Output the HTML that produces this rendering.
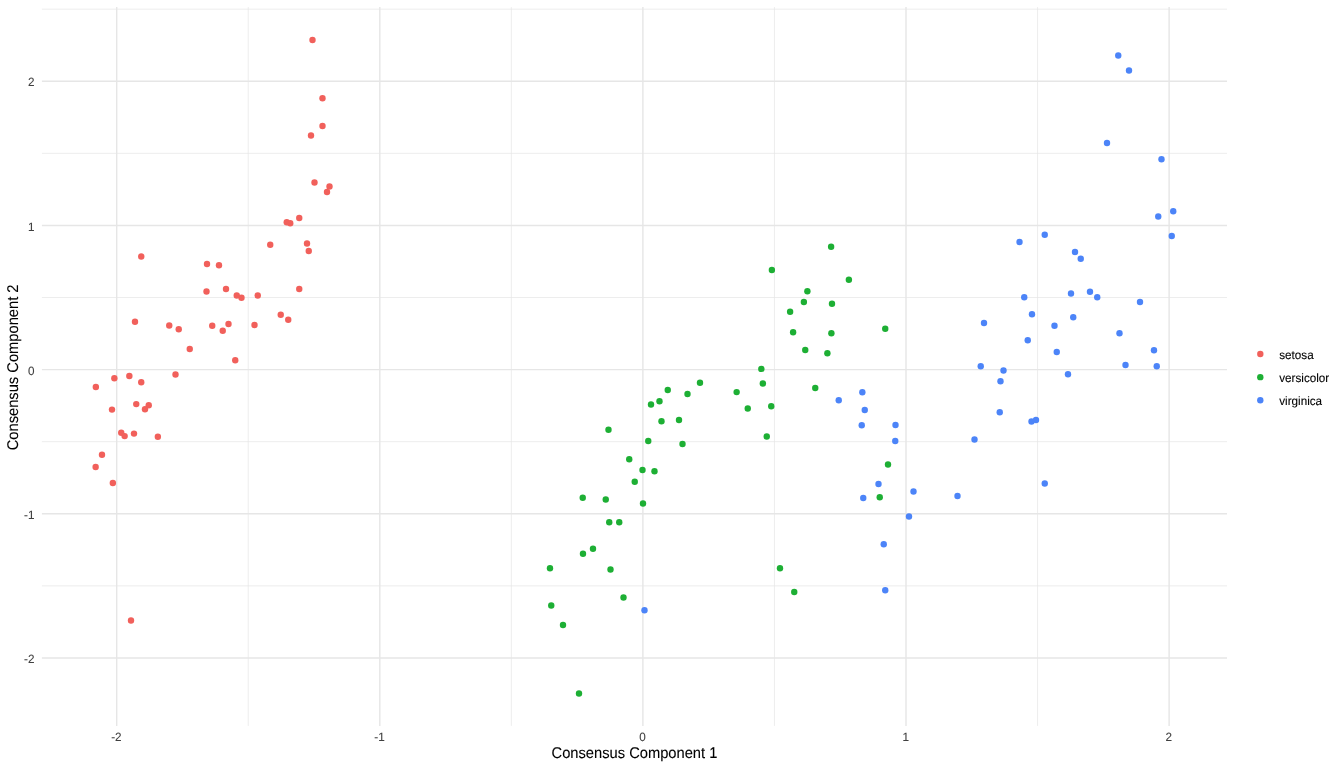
<!DOCTYPE html><html><head><meta charset="utf-8"><style>html,body{margin:0;padding:0;background:#fff;}body{width:1344px;height:768px;overflow:hidden;}svg{display:block;will-change:transform;}text{font-family:"Liberation Sans",sans-serif;text-rendering:geometricPrecision;stroke-width:0.1;}</style></head><body>
<svg width="1344" height="768" viewBox="0 0 1344 768">
<rect width="1344" height="768" fill="#fff"/>
<line x1="41.9" x2="1227" y1="585.86" y2="585.86" stroke="#E6E6E6" stroke-width="0.71"/>
<line x1="41.9" x2="1227" y1="441.69" y2="441.69" stroke="#E6E6E6" stroke-width="0.71"/>
<line x1="41.9" x2="1227" y1="297.52" y2="297.52" stroke="#E6E6E6" stroke-width="0.71"/>
<line x1="41.9" x2="1227" y1="153.35" y2="153.35" stroke="#E6E6E6" stroke-width="0.71"/>
<line x1="41.9" x2="1227" y1="9.18" y2="9.18" stroke="#E6E6E6" stroke-width="0.71"/>
<line y1="7.1" y2="725.9" x1="248.25" x2="248.25" stroke="#E6E6E6" stroke-width="0.71"/>
<line y1="7.1" y2="725.9" x1="511.35" x2="511.35" stroke="#E6E6E6" stroke-width="0.71"/>
<line y1="7.1" y2="725.9" x1="774.45" x2="774.45" stroke="#E6E6E6" stroke-width="0.71"/>
<line y1="7.1" y2="725.9" x1="1037.55" x2="1037.55" stroke="#E6E6E6" stroke-width="0.71"/>
<line x1="41.9" x2="1227" y1="657.94" y2="657.94" stroke="#E6E6E6" stroke-width="1.42"/>
<line x1="41.9" x2="1227" y1="513.77" y2="513.77" stroke="#E6E6E6" stroke-width="1.42"/>
<line x1="41.9" x2="1227" y1="369.60" y2="369.60" stroke="#E6E6E6" stroke-width="1.42"/>
<line x1="41.9" x2="1227" y1="225.43" y2="225.43" stroke="#E6E6E6" stroke-width="1.42"/>
<line x1="41.9" x2="1227" y1="81.26" y2="81.26" stroke="#E6E6E6" stroke-width="1.42"/>
<line y1="7.1" y2="725.9" x1="116.70" x2="116.70" stroke="#E6E6E6" stroke-width="1.42"/>
<line y1="7.1" y2="725.9" x1="379.80" x2="379.80" stroke="#E6E6E6" stroke-width="1.42"/>
<line y1="7.1" y2="725.9" x1="642.90" x2="642.90" stroke="#E6E6E6" stroke-width="1.42"/>
<line y1="7.1" y2="725.9" x1="906.00" x2="906.00" stroke="#E6E6E6" stroke-width="1.42"/>
<line y1="7.1" y2="725.9" x1="1169.10" x2="1169.10" stroke="#E6E6E6" stroke-width="1.42"/>
<circle cx="312.50" cy="39.95" r="3.2" fill="#F1605B"/>
<circle cx="322.50" cy="98.20" r="3.2" fill="#F1605B"/>
<circle cx="322.50" cy="125.95" r="3.2" fill="#F1605B"/>
<circle cx="311.00" cy="135.45" r="3.2" fill="#F1605B"/>
<circle cx="314.50" cy="182.45" r="3.2" fill="#F1605B"/>
<circle cx="329.50" cy="186.45" r="3.2" fill="#F1605B"/>
<circle cx="327.00" cy="191.95" r="3.2" fill="#F1605B"/>
<circle cx="299.25" cy="217.95" r="3.2" fill="#F1605B"/>
<circle cx="286.75" cy="222.20" r="3.2" fill="#F1605B"/>
<circle cx="290.25" cy="223.20" r="3.2" fill="#F1605B"/>
<circle cx="307.00" cy="243.45" r="3.2" fill="#F1605B"/>
<circle cx="308.75" cy="250.95" r="3.2" fill="#F1605B"/>
<circle cx="270.25" cy="244.70" r="3.2" fill="#F1605B"/>
<circle cx="141.25" cy="256.45" r="3.2" fill="#F1605B"/>
<circle cx="207.00" cy="263.95" r="3.2" fill="#F1605B"/>
<circle cx="219.00" cy="265.20" r="3.2" fill="#F1605B"/>
<circle cx="206.50" cy="291.45" r="3.2" fill="#F1605B"/>
<circle cx="226.00" cy="288.95" r="3.2" fill="#F1605B"/>
<circle cx="236.75" cy="295.45" r="3.2" fill="#F1605B"/>
<circle cx="241.50" cy="297.70" r="3.2" fill="#F1605B"/>
<circle cx="257.75" cy="295.45" r="3.2" fill="#F1605B"/>
<circle cx="299.25" cy="288.95" r="3.2" fill="#F1605B"/>
<circle cx="280.75" cy="314.70" r="3.2" fill="#F1605B"/>
<circle cx="288.25" cy="319.70" r="3.2" fill="#F1605B"/>
<circle cx="135.00" cy="321.70" r="3.2" fill="#F1605B"/>
<circle cx="169.25" cy="325.45" r="3.2" fill="#F1605B"/>
<circle cx="178.75" cy="329.20" r="3.2" fill="#F1605B"/>
<circle cx="212.25" cy="325.70" r="3.2" fill="#F1605B"/>
<circle cx="228.50" cy="323.95" r="3.2" fill="#F1605B"/>
<circle cx="222.75" cy="330.70" r="3.2" fill="#F1605B"/>
<circle cx="254.50" cy="324.95" r="3.2" fill="#F1605B"/>
<circle cx="189.75" cy="348.95" r="3.2" fill="#F1605B"/>
<circle cx="235.25" cy="360.20" r="3.2" fill="#F1605B"/>
<circle cx="175.50" cy="374.50" r="3.2" fill="#F1605B"/>
<circle cx="114.35" cy="378.30" r="3.2" fill="#F1605B"/>
<circle cx="129.35" cy="375.95" r="3.2" fill="#F1605B"/>
<circle cx="141.25" cy="382.30" r="3.2" fill="#F1605B"/>
<circle cx="95.85" cy="386.95" r="3.2" fill="#F1605B"/>
<circle cx="136.25" cy="404.10" r="3.2" fill="#F1605B"/>
<circle cx="148.75" cy="405.30" r="3.2" fill="#F1605B"/>
<circle cx="145.00" cy="409.30" r="3.2" fill="#F1605B"/>
<circle cx="112.00" cy="409.60" r="3.2" fill="#F1605B"/>
<circle cx="121.25" cy="432.80" r="3.2" fill="#F1605B"/>
<circle cx="124.65" cy="436.10" r="3.2" fill="#F1605B"/>
<circle cx="134.00" cy="433.60" r="3.2" fill="#F1605B"/>
<circle cx="157.85" cy="436.80" r="3.2" fill="#F1605B"/>
<circle cx="102.00" cy="454.80" r="3.2" fill="#F1605B"/>
<circle cx="95.65" cy="466.95" r="3.2" fill="#F1605B"/>
<circle cx="112.85" cy="482.95" r="3.2" fill="#F1605B"/>
<circle cx="131.00" cy="620.45" r="3.2" fill="#F1605B"/>
<circle cx="831.12" cy="246.82" r="3.2" fill="#1DAF34"/>
<circle cx="771.88" cy="269.95" r="3.2" fill="#1DAF34"/>
<circle cx="848.88" cy="279.82" r="3.2" fill="#1DAF34"/>
<circle cx="807.38" cy="291.20" r="3.2" fill="#1DAF34"/>
<circle cx="803.88" cy="301.95" r="3.2" fill="#1DAF34"/>
<circle cx="832.00" cy="303.82" r="3.2" fill="#1DAF34"/>
<circle cx="790.12" cy="311.70" r="3.2" fill="#1DAF34"/>
<circle cx="793.12" cy="332.20" r="3.2" fill="#1DAF34"/>
<circle cx="831.38" cy="333.20" r="3.2" fill="#1DAF34"/>
<circle cx="805.25" cy="349.95" r="3.2" fill="#1DAF34"/>
<circle cx="827.38" cy="353.32" r="3.2" fill="#1DAF34"/>
<circle cx="761.35" cy="368.90" r="3.2" fill="#1DAF34"/>
<circle cx="700.00" cy="382.80" r="3.2" fill="#1DAF34"/>
<circle cx="762.85" cy="383.45" r="3.2" fill="#1DAF34"/>
<circle cx="736.65" cy="392.10" r="3.2" fill="#1DAF34"/>
<circle cx="815.25" cy="388.00" r="3.2" fill="#1DAF34"/>
<circle cx="667.75" cy="389.95" r="3.2" fill="#1DAF34"/>
<circle cx="687.50" cy="393.95" r="3.2" fill="#1DAF34"/>
<circle cx="651.00" cy="404.45" r="3.2" fill="#1DAF34"/>
<circle cx="659.50" cy="401.20" r="3.2" fill="#1DAF34"/>
<circle cx="747.75" cy="408.45" r="3.2" fill="#1DAF34"/>
<circle cx="771.25" cy="406.20" r="3.2" fill="#1DAF34"/>
<circle cx="661.50" cy="421.20" r="3.2" fill="#1DAF34"/>
<circle cx="679.00" cy="419.95" r="3.2" fill="#1DAF34"/>
<circle cx="608.50" cy="429.70" r="3.2" fill="#1DAF34"/>
<circle cx="648.25" cy="440.95" r="3.2" fill="#1DAF34"/>
<circle cx="682.50" cy="443.95" r="3.2" fill="#1DAF34"/>
<circle cx="766.75" cy="436.45" r="3.2" fill="#1DAF34"/>
<circle cx="629.25" cy="459.20" r="3.2" fill="#1DAF34"/>
<circle cx="642.50" cy="469.95" r="3.2" fill="#1DAF34"/>
<circle cx="654.50" cy="471.20" r="3.2" fill="#1DAF34"/>
<circle cx="634.75" cy="481.70" r="3.2" fill="#1DAF34"/>
<circle cx="582.75" cy="497.70" r="3.2" fill="#1DAF34"/>
<circle cx="605.75" cy="499.45" r="3.2" fill="#1DAF34"/>
<circle cx="643.00" cy="503.45" r="3.2" fill="#1DAF34"/>
<circle cx="609.25" cy="522.20" r="3.2" fill="#1DAF34"/>
<circle cx="619.25" cy="522.20" r="3.2" fill="#1DAF34"/>
<circle cx="593.00" cy="548.80" r="3.2" fill="#1DAF34"/>
<circle cx="583.00" cy="553.70" r="3.2" fill="#1DAF34"/>
<circle cx="550.00" cy="568.20" r="3.2" fill="#1DAF34"/>
<circle cx="610.50" cy="569.45" r="3.2" fill="#1DAF34"/>
<circle cx="623.50" cy="597.45" r="3.2" fill="#1DAF34"/>
<circle cx="551.25" cy="605.45" r="3.2" fill="#1DAF34"/>
<circle cx="563.00" cy="624.95" r="3.2" fill="#1DAF34"/>
<circle cx="579.00" cy="693.45" r="3.2" fill="#1DAF34"/>
<circle cx="780.00" cy="568.20" r="3.2" fill="#1DAF34"/>
<circle cx="794.25" cy="591.95" r="3.2" fill="#1DAF34"/>
<circle cx="885.25" cy="328.70" r="3.2" fill="#1DAF34"/>
<circle cx="888.00" cy="464.45" r="3.2" fill="#1DAF34"/>
<circle cx="879.75" cy="497.20" r="3.2" fill="#1DAF34"/>
<circle cx="644.50" cy="610.20" r="3.2" fill="#4C84F8"/>
<circle cx="838.75" cy="400.20" r="3.2" fill="#4C84F8"/>
<circle cx="862.35" cy="392.30" r="3.2" fill="#4C84F8"/>
<circle cx="864.75" cy="409.95" r="3.2" fill="#4C84F8"/>
<circle cx="861.75" cy="425.20" r="3.2" fill="#4C84F8"/>
<circle cx="895.50" cy="424.95" r="3.2" fill="#4C84F8"/>
<circle cx="895.25" cy="440.95" r="3.2" fill="#4C84F8"/>
<circle cx="878.50" cy="483.95" r="3.2" fill="#4C84F8"/>
<circle cx="863.25" cy="497.95" r="3.2" fill="#4C84F8"/>
<circle cx="913.50" cy="491.45" r="3.2" fill="#4C84F8"/>
<circle cx="909.00" cy="516.45" r="3.2" fill="#4C84F8"/>
<circle cx="883.75" cy="544.20" r="3.2" fill="#4C84F8"/>
<circle cx="885.25" cy="590.20" r="3.2" fill="#4C84F8"/>
<circle cx="957.50" cy="495.95" r="3.2" fill="#4C84F8"/>
<circle cx="974.50" cy="439.45" r="3.2" fill="#4C84F8"/>
<circle cx="999.75" cy="412.20" r="3.2" fill="#4C84F8"/>
<circle cx="1031.50" cy="421.45" r="3.2" fill="#4C84F8"/>
<circle cx="1036.00" cy="419.95" r="3.2" fill="#4C84F8"/>
<circle cx="1044.75" cy="483.45" r="3.2" fill="#4C84F8"/>
<circle cx="980.75" cy="366.20" r="3.2" fill="#4C84F8"/>
<circle cx="1003.50" cy="370.45" r="3.2" fill="#4C84F8"/>
<circle cx="1000.50" cy="381.20" r="3.2" fill="#4C84F8"/>
<circle cx="1068.00" cy="374.20" r="3.2" fill="#4C84F8"/>
<circle cx="1125.50" cy="364.95" r="3.2" fill="#4C84F8"/>
<circle cx="1156.75" cy="366.20" r="3.2" fill="#4C84F8"/>
<circle cx="1056.75" cy="351.95" r="3.2" fill="#4C84F8"/>
<circle cx="1154.00" cy="350.20" r="3.2" fill="#4C84F8"/>
<circle cx="1027.75" cy="340.20" r="3.2" fill="#4C84F8"/>
<circle cx="1119.50" cy="333.20" r="3.2" fill="#4C84F8"/>
<circle cx="1054.50" cy="325.70" r="3.2" fill="#4C84F8"/>
<circle cx="984.00" cy="322.95" r="3.2" fill="#4C84F8"/>
<circle cx="1073.25" cy="317.20" r="3.2" fill="#4C84F8"/>
<circle cx="1032.00" cy="314.20" r="3.2" fill="#4C84F8"/>
<circle cx="1140.00" cy="301.95" r="3.2" fill="#4C84F8"/>
<circle cx="1024.25" cy="297.20" r="3.2" fill="#4C84F8"/>
<circle cx="1097.25" cy="297.20" r="3.2" fill="#4C84F8"/>
<circle cx="1090.00" cy="291.70" r="3.2" fill="#4C84F8"/>
<circle cx="1071.00" cy="293.45" r="3.2" fill="#4C84F8"/>
<circle cx="1080.75" cy="258.70" r="3.2" fill="#4C84F8"/>
<circle cx="1075.00" cy="251.95" r="3.2" fill="#4C84F8"/>
<circle cx="1019.50" cy="241.95" r="3.2" fill="#4C84F8"/>
<circle cx="1044.75" cy="234.70" r="3.2" fill="#4C84F8"/>
<circle cx="1171.75" cy="235.95" r="3.2" fill="#4C84F8"/>
<circle cx="1173.25" cy="211.20" r="3.2" fill="#4C84F8"/>
<circle cx="1158.25" cy="216.45" r="3.2" fill="#4C84F8"/>
<circle cx="1161.50" cy="159.20" r="3.2" fill="#4C84F8"/>
<circle cx="1107.00" cy="142.95" r="3.2" fill="#4C84F8"/>
<circle cx="1129.00" cy="70.45" r="3.2" fill="#4C84F8"/>
<circle cx="1118.25" cy="55.45" r="3.2" fill="#4C84F8"/>
<text transform="translate(116.40,741.4) scale(0.975,1)" font-size="12.0" fill="#404040" stroke="#404040" text-anchor="middle">-2</text>
<text transform="translate(379.50,741.4) scale(0.975,1)" font-size="12.0" fill="#404040" stroke="#404040" text-anchor="middle">-1</text>
<text transform="translate(642.60,741.4) scale(0.975,1)" font-size="12.0" fill="#404040" stroke="#404040" text-anchor="middle">0</text>
<text transform="translate(905.70,741.4) scale(0.975,1)" font-size="12.0" fill="#404040" stroke="#404040" text-anchor="middle">1</text>
<text transform="translate(1168.80,741.4) scale(0.975,1)" font-size="12.0" fill="#404040" stroke="#404040" text-anchor="middle">2</text>
<text transform="translate(34.4,663.04) scale(0.975,1)" font-size="12.0" fill="#404040" stroke="#404040" text-anchor="end">-2</text>
<text transform="translate(34.4,518.87) scale(0.975,1)" font-size="12.0" fill="#404040" stroke="#404040" text-anchor="end">-1</text>
<text transform="translate(34.4,374.70) scale(0.975,1)" font-size="12.0" fill="#404040" stroke="#404040" text-anchor="end">0</text>
<text transform="translate(34.4,230.53) scale(0.975,1)" font-size="12.0" fill="#404040" stroke="#404040" text-anchor="end">1</text>
<text transform="translate(34.4,86.36) scale(0.975,1)" font-size="12.0" fill="#404040" stroke="#404040" text-anchor="end">2</text>
<text transform="translate(634.45,757.9) scale(0.948,1)" font-size="15.5" fill="#000000" stroke="#000000" text-anchor="middle">Consensus Component 1</text>
<text transform="translate(17.7,367.4) rotate(-90) scale(0.948,1)" font-size="15.5" fill="#000000" stroke="#000000" text-anchor="middle">Consensus Component 2</text>
<circle cx="1260.3" cy="354.0" r="3.2" fill="#F1605B"/>
<text transform="translate(1279.2,358.60) scale(0.975,1)" font-size="12.0" fill="#000000" stroke="#000000">setosa</text>
<circle cx="1260.3" cy="377.15" r="3.2" fill="#1DAF34"/>
<text transform="translate(1279.2,381.75) scale(0.975,1)" font-size="12.0" fill="#000000" stroke="#000000">versicolor</text>
<circle cx="1260.3" cy="400.3" r="3.2" fill="#4C84F8"/>
<text transform="translate(1279.2,404.90) scale(0.975,1)" font-size="12.0" fill="#000000" stroke="#000000">virginica</text>
</svg></body></html>
